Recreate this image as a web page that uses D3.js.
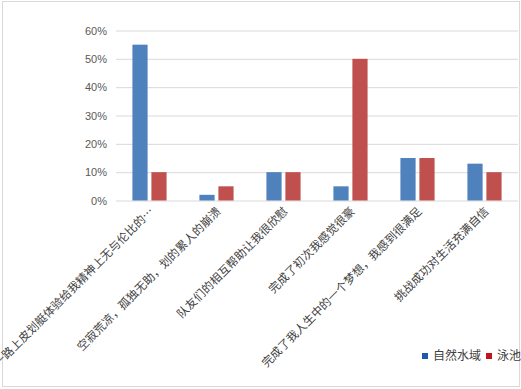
<!DOCTYPE html>
<html>
<head>
<meta charset="utf-8">
<script src="https://cdn.jsdelivr.net/npm/d3@7"></script>
<style>
  body { margin: 0; background: #fff; }
</style>
</head>
<body>
<div id="chart"></div>
<script>
// data
const categories = [
  "一路上皮划艇体验给我精神上无与伦比的…",
  "空寂荒凉，孤独无助，划的累人的崩溃",
  "队友们的相互帮助让我很欣慰",
  "完成了初次我感觉很豪",
  "完成了我人生中的一个梦想，我感到很满足",
  "挑战成功对生活充满自信"
];
const seriesNames = ["自然水域", "泳池"];
const natural = [0.55, 0.02, 0.10, 0.05, 0.15, 0.13];
const pool = [0.10, 0.05, 0.10, 0.50, 0.15, 0.10];
const yTicks = [0, 0.1, 0.2, 0.3, 0.4, 0.5, 0.6];

const width = 521, height = 389;
const barColors = ["#4f81bd", "#c0504d"];
const legendColors = ["#1f5aa8", "#c0141c"];
const labelFont = "'Noto Sans CJK SC', 'Noto Sans', sans-serif";
const charW = 11.6; // width per glyph in the rotated labels

const rows = categories.map((c, i) => ({ cat: c, values: [natural[i], pool[i]] }));

const svg = d3.select("#chart")
  .append("svg")
  .attr("width", width)
  .attr("height", height);

// outer border
svg.append("rect")
  .attr("x", 2.5).attr("y", 1.5)
  .attr("width", 517).attr("height", 385)
  .attr("fill", "none")
  .attr("stroke", "#d9d9d9");

const x0 = d3.scaleBand()
  .domain(categories)
  .range([116, 518])
  .paddingInner(0.49)
  .paddingOuter(0.245);

const x1 = d3.scaleBand()
  .domain([0, 1])
  .range([0, x0.bandwidth()])
  .paddingInner(0.2);

const y = d3.scaleLinear()
  .domain([0, 0.6])
  .range([200.5, 30.5]);

// gridlines + y labels
const yAxis = d3.axisLeft(y)
  .tickValues(yTicks)
  .tickFormat(d3.format(".0%"))
  .tickSize(-(518 - 116))
  .tickPadding(9);

const gy = svg.append("g")
  .attr("transform", "translate(116,0)")
  .call(yAxis);
gy.select(".domain").remove();
gy.selectAll(".tick line").attr("stroke", "#d9d9d9");
gy.selectAll(".tick text")
  .attr("fill", "#595959")
  .attr("font-size", 11)
  .attr("font-family", "'Liberation Sans', Arial, sans-serif");

// bars
svg.append("g")
  .selectAll("g")
  .data(rows)
  .join("g")
  .attr("transform", d => `translate(${x0(d.cat)},0)`)
  .selectAll("rect")
  .data(d => d.values.map((v, i) => ({ v, i })))
  .join("rect")
  .attr("x", d => x1(d.i))
  .attr("y", d => y(d.v))
  .attr("width", x1.bandwidth())
  .attr("height", d => y(0) - y(d.v))
  .attr("fill", d => barColors[d.i]);

// category labels, rotated -45
svg.append("g")
  .selectAll("text")
  .data(categories)
  .join("text")
  .attr("transform", d => `translate(${x0(d) + x0.bandwidth() / 2 + 5},${212}) rotate(-45)`)
  .attr("text-anchor", "end")
  .attr("font-size", 11.5)
  .attr("textLength", d => d.length * charW)
  .attr("lengthAdjust", "spacing")
  .attr("font-family", labelFont)
  .attr("fill", "#404040")
  .text(d => d);

// legend
const legendX = [422, 486];
const legend = svg.append("g")
  .selectAll("g")
  .data(seriesNames)
  .join("g")
  .attr("transform", (d, i) => `translate(${legendX[i]},353)`);
legend.append("rect")
  .attr("width", 6).attr("height", 6)
  .attr("fill", (d, i) => legendColors[i]);
legend.append("text")
  .attr("x", 11)
  .attr("y", 7)
  .attr("font-size", 12)
  .attr("font-family", labelFont)
  .attr("fill", "#404040")
  .text(d => d);
</script>
</body>
</html>
